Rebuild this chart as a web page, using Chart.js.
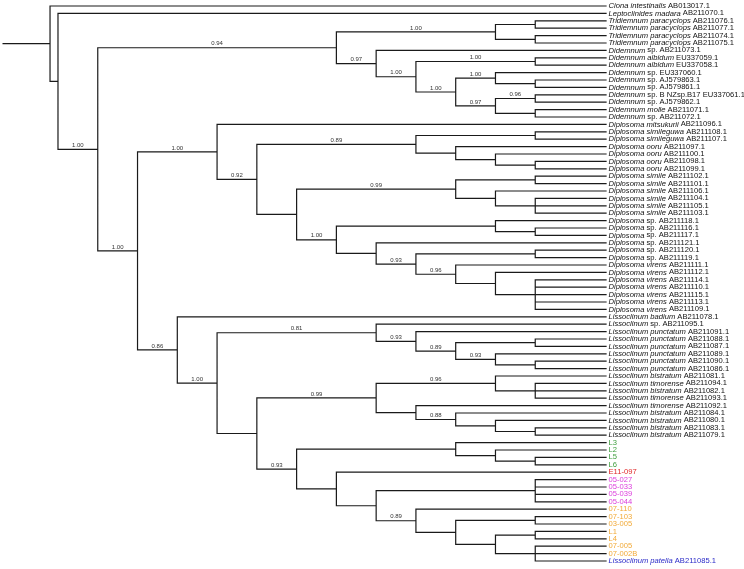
<!DOCTYPE html>
<html>
<head>
<meta charset="utf-8">
<script src="https://cdn.jsdelivr.net/npm/chart.js@4"></script>
<style>
  html, body { margin: 0; padding: 0; background: #fff; }
  #wrap { position: relative; width: 744px; height: 569px; }
</style>
</head>
<body>
<div id="wrap"><canvas id="arvore"></canvas></div>
<script>
// Taxa, top to bottom (text between _ _ is italic)
const taxa = [
  '_Ciona intestinalis_ AB013017.1',
  '_Leptoclinides madara_ AB211070.1',
  '_Tridiemnum paracyclops_ AB211076.1',
  '_Tridiemnum paracyclops_ AB211077.1',
  '_Tridiemnum paracyclops_ AB211074.1',
  '_Tridiemnum paracyclops_ AB211075.1',
  '_Didemnum_ sp. AB211073.1',
  '_Didemnum albidum_ EU337059.1',
  '_Didemnum albidum_ EU337058.1',
  '_Didemnum_ sp. EU337060.1',
  '_Didemnum_ sp. AJ579863.1',
  '_Didemnum_ sp. AJ579861.1',
  '_Didemnum_ sp. B NZsp.B17 EU337061.1',
  '_Didemnum_ sp. AJ579862.1',
  '_Didemnum molle_ AB211071.1',
  '_Didemnum_ sp. AB211072.1',
  '_Diplosoma mitsukurii_ AB211096.1',
  '_Diplosoma simileguwa_ AB211108.1',
  '_Diplosoma simileguwa_ AB211107.1',
  '_Diplosoma ooru_ AB211097.1',
  '_Diplosoma ooru_ AB211100.1',
  '_Diplosoma ooru_ AB211098.1',
  '_Diplosoma ooru_ AB211099.1',
  '_Diplosoma simile_ AB211102.1',
  '_Diplosoma simile_ AB211101.1',
  '_Diplosoma simile_ AB211106.1',
  '_Diplosoma simile_ AB211104.1',
  '_Diplosoma simile_ AB211105.1',
  '_Diplosoma simile_ AB211103.1',
  '_Diplosoma_ sp. AB211118.1',
  '_Diplosoma_ sp. AB211116.1',
  '_Diplosoma_ sp. AB211117.1',
  '_Diplosoma_ sp. AB211121.1',
  '_Diplosoma_ sp. AB211120.1',
  '_Diplosoma_ sp. AB211119.1',
  '_Diplosoma virens_ AB211111.1',
  '_Diplosoma virens_ AB211112.1',
  '_Diplosoma virens_ AB211114.1',
  '_Diplosoma virens_ AB211110.1',
  '_Diplosoma virens_ AB211115.1',
  '_Diplosoma virens_ AB211113.1',
  '_Diplosoma virens_ AB211109.1',
  '_Lissoclinum badium_ AB211078.1',
  '_Lissoclinum_ sp. AB211095.1',
  '_Lissoclinum punctatum_ AB211091.1',
  '_Lissoclinum punctatum_ AB211088.1',
  '_Lissoclinum punctatum_ AB211087.1',
  '_Lissoclinum punctatum_ AB211089.1',
  '_Lissoclinum punctatum_ AB211090.1',
  '_Lissoclinum punctatum_ AB211086.1',
  '_Lissoclinum bistratum_ AB211081.1',
  '_Lissoclinum timorense_ AB211094.1',
  '_Lissoclinum bistratum_ AB211082.1',
  '_Lissoclinum timorense_ AB211093.1',
  '_Lissoclinum timorense_ AB211092.1',
  '_Lissoclinum bistratum_ AB211084.1',
  '_Lissoclinum bistratum_ AB211080.1',
  '_Lissoclinum bistratum_ AB211083.1',
  '_Lissoclinum bistratum_ AB211079.1',
  'L3', 'L2', 'L5', 'L6', 'E11-097',
  '05-027', '05-033', '05-039', '05-044',
  '07-110', '07-103', '03-005', 'L1', 'L4', '07-005', '07-002B',
  '_Lissoclinum patella_ AB211085.1'
];

// Sample groups (coloured labels)
const grupoL = ['L3', 'L2', 'L5', 'L6'];
const grupoE = ['E11-097'];
const grupo05 = ['05-027', '05-033', '05-039', '05-044'];
const grupo07 = ['07-110', '07-103', '03-005', 'L1', 'L4', '07-005', '07-002B'];
const grupoPatella = ['_Lissoclinum patella_ AB211085.1'];

// Clades in newick, tips are numbers of the taxa above, support after ")"
const tridiemnum = '((3,4),(5,6))1.00';
const didemnum = '(7,((8,9)1.00,((10,(11,12))1.00,((13,14)0.96,(15,16))0.97)1.00)1.00)0.97';
const diplosomaA = '((18,19),(20,(21,(22,23))))0.89';
const diplosomaB = '((24,25),(26,(27,28,29)))0.99';
const diplosomaC = '((30,(31,32)),(33,((34,35),(36,(37,(38,39,40,41,42)))0.96)0.93))1.00';
const lissoA = '(44,(45,((46,47),(48,(49,50))0.93)0.89)0.93)0.81';
const lissoB = '((51,(52,53,54))0.96,(55,(56,(57,(58,59)))0.88))0.99';
const lissoC = '((60,(61,(62,63))),(64,((65,66,67,68),(69,((70,71),((72,73),(74,75,76))))0.89)))0.93';

const diplosoma = '(17,(' + diplosomaA + ',(' + diplosomaB + ',' + diplosomaC + '))0.92)1.00';
const lissoclinum = '(43,(' + lissoA + ',(' + lissoB + ',' + lissoC + '))1.00)0.86';
const arvoreNwk = '(1,(2,((' + tridiemnum + ',' + didemnum + ')0.94,(' + diplosoma + ',' + lissoclinum + ')1.00)1.00))';

// Layout levels (x axis) 
const tipDepth = 13;     // cladogram: node level = tipDepth - height
const tipLevel = 13.78;  // where the tip lines end
const rootLevel = -0.2;
const stubLevel = -1.38;

const cores = { L: '#3e9e3e', E: '#e02828', g05: '#dc3cdc', g07: '#f2aa38', patella: '#2a2ac8', base: '#111' };
const fonteTip = '7.6px "Liberation Sans", Arial, sans-serif';
const fonteSup = '6px "Liberation Sans", Arial, sans-serif';

function corDe(nome) {
  if (grupoL.includes(nome)) return cores.L;
  if (grupoE.includes(nome)) return cores.E;
  if (grupo05.includes(nome)) return cores.g05;
  if (grupo07.includes(nome)) return cores.g07;
  if (grupoPatella.includes(nome)) return cores.patella;
  return cores.base;
}

function parseNewick(str) {
  let i = 0;
  function lerNum() {
    const m = /^[0-9.]+/.exec(str.slice(i));
    if (!m) return null;
    i += m[0].length;
    return m[0];
  }
  function no() {
    if (str[i] === '(') {
      i++;
      const kids = [no()];
      while (str[i] === ',') { i++; kids.push(no()); }
      i++; // ')'
      return { kids, support: lerNum() };
    }
    return { tip: parseInt(lerNum(), 10) - 1 };
  }
  return no();
}

const raiz = parseNewick(arvoreNwk);
const nos = [];
function posicionar(n, pai) {
  n.parent = pai;
  nos.push(n);
  if (n.kids) {
    n.kids.forEach(k => posicionar(k, n));
    n.height = 1 + Math.max(...n.kids.map(k => k.height));
    n.y = (n.kids[0].y + n.kids[n.kids.length - 1].y) / 2;
    n.x = tipDepth - n.height;
  } else {
    n.height = 0;
    n.y = n.tip;
    n.x = tipLevel;
  }
}
posicionar(raiz, null);
raiz.x = rootLevel;

// branches as elbow paths, broken by null points
const ramos = [{ x: stubLevel, y: raiz.y }, { x: raiz.x, y: raiz.y }, { x: null, y: null }];
nos.forEach(n => {
  if (!n.parent) return;
  ramos.push({ x: n.parent.x, y: n.parent.y }, { x: n.parent.x, y: n.y }, { x: n.x, y: n.y }, { x: null, y: null });
});

const textos = {
  id: 'textos',
  afterDatasetsDraw(chart) {
    const { ctx, scales: { x, y } } = chart;
    ctx.save();
    ctx.textBaseline = 'middle';
    ctx.textAlign = 'left';
    taxa.forEach((nome, i) => {
      let px = x.getPixelForValue(tipLevel) + 2.5;
      const py = y.getPixelForValue(i);
      ctx.fillStyle = corDe(nome);
      nome.split('_').forEach((parte, j) => {
        if (!parte) return;
        ctx.font = (j % 2 ? 'italic ' : '') + fonteTip;
        ctx.fillText(parte, px, py);
        px += ctx.measureText(parte).width;
      });
    });
    // support values
    ctx.font = fonteSup;
    ctx.fillStyle = '#333';
    ctx.textAlign = 'center';
    ctx.textBaseline = 'bottom';
    nos.forEach(n => {
      if (!n.support || !n.parent) return;
      const mx = (x.getPixelForValue(n.parent.x) + x.getPixelForValue(n.x)) / 2;
      ctx.fillText(n.support, mx, y.getPixelForValue(n.y) - 1);
    });
    ctx.restore();
  }
};

new Chart(document.getElementById('arvore'), {
  type: 'scatter',
  data: {
    datasets: [{
      data: ramos,
      showLine: true,
      spanGaps: false,
      borderColor: '#1a1a1a',
      borderWidth: 1.2,
      borderCapStyle: 'square',
      borderJoinStyle: 'miter',
      pointRadius: 0,
      tension: 0
    }]
  },
  options: {
    responsive: true,
    maintainAspectRatio: false,
    animation: false,
    layout: { padding: 0 },
    plugins: { legend: { display: false }, tooltip: { enabled: false } },
    scales: {
      x: { type: 'linear', display: false, min: -1.458, max: 17.249 },
      y: { type: 'linear', display: false, reverse: true, min: -0.81, max: 76.08 }
    }
  },
  plugins: [textos]
});
</script>
</body>
</html>
